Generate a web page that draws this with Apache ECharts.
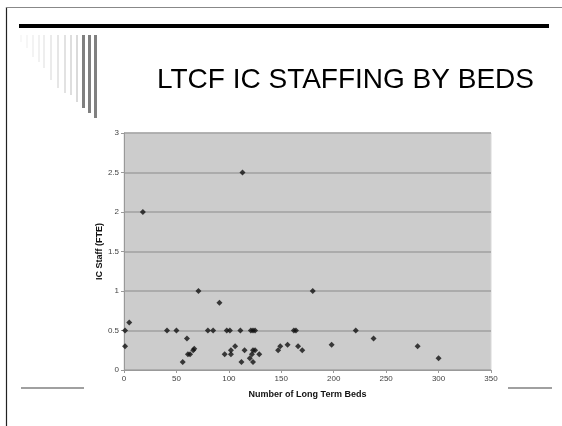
<!DOCTYPE html>
<html>
<head>
<meta charset="utf-8">
<script src="https://cdn.jsdelivr.net/npm/echarts@6/dist/echarts.min.js"></script>
<style>
html, body { margin: 0; padding: 0; background: #fff; }
#chart { width: 562px; height: 426px; }
</style>
</head>
<body>
<div id="chart"></div>
<script>
// beds vs IC staff (FTE)
var beds = [1, 1, 5, 18, 41, 50, 56, 60, 61, 63, 66, 67, 71, 80, 85, 91, 96, 98, 101, 102, 102, 106,
	111, 112, 113, 115, 120, 121, 123, 125, 122, 123, 125, 123, 129, 147, 149, 156, 162, 164, 166,
	170, 180, 198, 221, 238, 280, 300];
var fte = [0.5, 0.3, 0.6, 2.0, 0.5, 0.5, 0.1, 0.4, 0.2, 0.2, 0.25, 0.27, 1.0, 0.5, 0.5, 0.85, 0.2, 0.5,
	0.5, 0.25, 0.2, 0.3, 0.5, 0.1, 2.5, 0.25, 0.15, 0.5, 0.5, 0.5, 0.2, 0.25, 0.25, 0.1, 0.2, 0.25,
	0.3, 0.32, 0.5, 0.5, 0.3, 0.25, 1.0, 0.32, 0.5, 0.4, 0.3, 0.15];
var titleText = "LTCF IC STAFFING BY BEDS";
var xName = "Number of Long Term Beds";
var yName = "IC Staff (FTE)";

var points = [];
for (var i = 0; i < beds.length; i++) {
	points.push([beds[i], fte[i]]);
}

// slide decoration (left fading bars)
var barX = [20, 26, 32, 38, 43, 50, 57, 64, 70, 76, 82, 88, 94];
var barBottom = [42, 48, 57, 62, 68, 80, 88, 93, 95, 102, 108, 113, 118];
var barColor = ['#f8f8f8', '#f6f6f6', '#f3f3f3', '#f1f1f1', '#eeeeee', '#ebebeb', '#e6e6e6',
	'#e2e2e2', '#dedede', '#dadada', '#808080', '#808080', '#808080'];
var deco = [
	{ type: 'line', shape: { x1: 6.5, y1: 7, x2: 6.5, y2: 426 }, style: { stroke: '#222', lineWidth: 1.2 } },
	{ type: 'line', shape: { x1: 6, y1: 7.5, x2: 562, y2: 7.5 }, style: { stroke: '#888', lineWidth: 1 } },
	{ type: 'rect', shape: { x: 19, y: 24, width: 530, height: 4 }, style: { fill: '#000' } },
	{ type: 'line', shape: { x1: 21, y1: 388, x2: 84, y2: 388 }, style: { stroke: '#808080', lineWidth: 1.5 } },
	{ type: 'line', shape: { x1: 508, y1: 388, x2: 552, y2: 388 }, style: { stroke: '#808080', lineWidth: 1.5 } }
];
for (var j = 0; j < barX.length; j++) {
	deco.push({
		type: 'rect',
		shape: { x: barX[j], y: 35, width: j > 9 ? 3 : 2, height: barBottom[j] - 35 },
		style: { fill: barColor[j] }
	});
}

var chart = echarts.init(document.getElementById('chart'), null, { renderer: 'canvas' });
chart.setOption({
	animation: false,
	backgroundColor: '#fff',
	textStyle: { fontFamily: 'Liberation Sans, Arial, sans-serif' },
	title: {
		text: titleText,
		left: 152,
		top: 61,
		textStyle: { fontSize: 28, fontWeight: 'normal', color: '#000', fontFamily: 'Liberation Sans, Arial, sans-serif' }
	},
	graphic: deco,
	grid: {
		left: 124,
		top: 133,
		right: 71,
		bottom: 56,
		show: true,
		backgroundColor: '#cccccc',
		borderColor: '#d8d8d8',
		borderWidth: 1
	},
	xAxis: {
		type: 'value',
		min: 0,
		max: 350,
		interval: 50,
		name: xName,
		nameLocation: 'middle',
		nameGap: 20,
		nameMoveOverlap: false,
		nameTextStyle: { fontSize: 9, fontWeight: 'bold', color: '#111' },
		axisLine: { lineStyle: { color: '#999' } },
		axisTick: { show: true, length: 3, lineStyle: { color: '#999' } },
		axisLabel: { fontSize: 8, color: '#444', margin: 5 },
		splitLine: { show: false }
	},
	yAxis: {
		type: 'value',
		min: 0,
		max: 3,
		interval: 0.5,
		name: yName,
		nameLocation: 'middle',
		nameGap: 20,
		nameMoveOverlap: false,
		nameTextStyle: { fontSize: 9, fontWeight: 'bold', color: '#111' },
		axisLine: { show: true, lineStyle: { color: '#999' } },
		axisTick: { show: true, length: 3, lineStyle: { color: '#999' } },
		axisLabel: { fontSize: 8, color: '#444', margin: 5 },
		splitLine: { show: true, lineStyle: { color: '#a0a0a0', width: 1.5 } }
	},
	series: [{
		type: 'scatter',
		data: points,
		symbol: 'diamond',
		symbolSize: 6,
		itemStyle: { color: '#111' }
	}]
});
</script>
</body>
</html>
